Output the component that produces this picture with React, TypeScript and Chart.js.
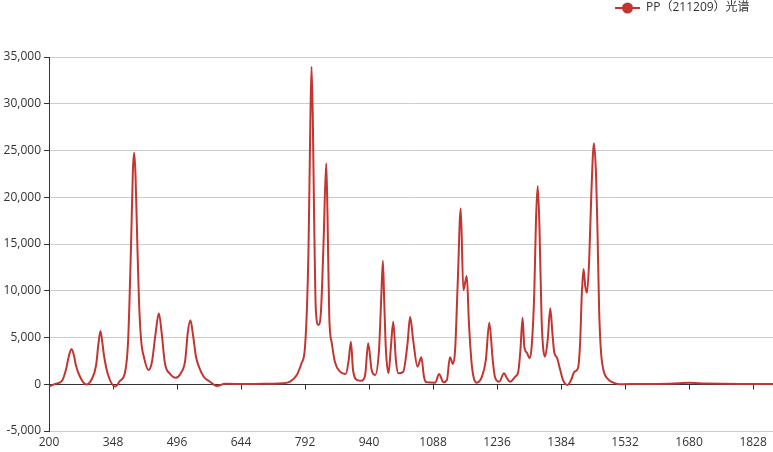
import React, { useEffect, useRef } from 'react';
import { Chart, registerables } from 'chart.js';

Chart.register(...registerables);

const seriesName = 'PP（211209）光谱';
const lineColor = '#c23531';

const wavenumbers = [
  200, 214, 230, 239, 246, 252, 258, 262, 272, 286,
  299, 309, 314, 319, 324, 327, 336, 353, 364, 376,
  383, 390, 394, 397, 400, 404, 408, 413, 420, 430,
  438, 446, 454, 461, 468, 480, 493, 505, 515, 521,
  527, 533, 540, 547, 558, 570, 588, 607, 665, 711,
  741, 757, 773, 784, 792, 800, 804, 807, 810, 813,
  817, 823, 829, 835, 841, 844, 848, 854, 861, 873,
  886, 893, 898, 903, 913, 923, 931, 938, 946, 954,
  963, 968, 972, 975, 979, 985, 990, 996, 1002, 1008,
  1019, 1029, 1035, 1042, 1052, 1061, 1067, 1073, 1093, 1102,
  1112, 1120, 1127, 1134, 1139, 1145, 1152, 1158, 1166, 1171,
  1178, 1189, 1201, 1210, 1218, 1226, 1231, 1241, 1252, 1259,
  1266, 1278, 1285, 1290, 1295, 1299, 1305, 1311, 1316, 1322,
  1326, 1330, 1334, 1339, 1347, 1353, 1359, 1364, 1368, 1375,
  1382, 1389, 1399, 1407, 1415, 1423, 1428, 1432, 1436, 1440,
  1444, 1449, 1454, 1460, 1465, 1468, 1472, 1476, 1482, 1493,
  1505, 1520, 1567, 1636, 1682, 1717, 1798, 1874,
];

const intensities = [
  -240, 30, 350, 1520, 3020, 3770, 3020, 2060, 780, -30,
  560, 2060, 4200, 5700, 4200, 3130, 1100, -240, 350, 1310,
  4730, 15430, 22910, 24760, 22380, 15430, 9010, 4730, 2810, 1520,
  2380, 5270, 7590, 5270, 2270, 1100, 700, 1200, 2590, 5580,
  6840, 5270, 2910, 1840, 780, 350, -190, 50, 30, 60,
  100, 270, 990, 2270, 4020, 14360, 27190, 33960, 28260, 17920,
  7940, 6340, 7940, 15430, 23630, 17920, 7220, 4380, 2410, 1340,
  1100, 2590, 4550, 1520, 450, 380, 990, 4380, 1520, 990,
  3660, 9010, 13210, 9010, 3660, 1170, 3660, 6690, 2590, 1170,
  1340, 4380, 7220, 4730, 1880, 2880, 810, 210, 170, 1100,
  210, 450, 2880, 2170, 3660, 10800, 18820, 10080, 11580, 6520,
  1880, 170, 810, 2590, 6580, 2590, 810, 270, 1170, 640,
  270, 810, 1340, 3660, 7120, 4020, 3370, 2780, 4020, 9730,
  17570, 21200, 16850, 6870, 2950, 4730, 8120, 5450, 3480, 2780,
  1520, 380, -80, 450, 1340, 1710, 4380, 9730, 12330, 10430,
  9790, 13290, 20420, 25770, 22200, 16850, 7940, 3660, 1520, 530,
  170, 0, 30, 50, 150, 80, 30, 30,
];

const xTicks = [200, 348, 496, 644, 792, 940, 1088, 1236, 1384, 1532, 1680, 1828];
const xMin = 200;
const xMax = 1874;
const yMin = -5000;
const yMax = 35000;
const yStep = 5000;

const FONT = '"Microsoft YaHei", "Open Sans", "Noto Sans CJK SC", sans-serif';
const TEXT = '#333';

const zeroAxisPlugin = {
  id: 'zeroAxis',
  beforeDatasetsDraw(chart: any) {
    const { ctx, chartArea, scales } = chart;
    const y0 = Math.round(scales.y.getPixelForValue(0)) + 0.5;
    ctx.save();
    ctx.strokeStyle = '#333';
    ctx.lineWidth = 1;
    ctx.beginPath();
    ctx.moveTo(chartArea.left, y0);
    ctx.lineTo(chartArea.right, y0);
    for (const t of xTicks) {
      const x = Math.round(scales.x.getPixelForValue(t)) + 0.5;
      ctx.moveTo(x, y0);
      ctx.lineTo(x, y0 + 5);
    }
    ctx.stroke();
    ctx.restore();
  },
};

const legendPlugin = {
  id: 'customLegend',
  afterDraw(chart: any) {
    const { ctx } = chart;
    ctx.save();
    const cy = 8;
    ctx.strokeStyle = lineColor;
    ctx.lineWidth = 2;
    ctx.beginPath();
    ctx.moveTo(615, cy);
    ctx.lineTo(640, cy);
    ctx.stroke();
    ctx.fillStyle = lineColor;
    ctx.beginPath();
    ctx.arc(627.5, cy, 5.5, 0, Math.PI * 2);
    ctx.fill();
    ctx.fillStyle = TEXT;
    ctx.font = `12px ${FONT}`;
    ctx.textBaseline = 'middle';
    ctx.textAlign = 'left';
    ctx.fillText(seriesName, 646, cy);
    ctx.restore();
  },
};

export default function App() {
  const canvasRef = useRef<HTMLCanvasElement | null>(null);

  useEffect(() => {
    document.body.style.margin = '0';
    const canvas = canvasRef.current;
    if (!canvas) return;
    const points = wavenumbers.map((x, i) => ({ x, y: intensities[i] }));
    const chart = new Chart(canvas, {
      type: 'line',
      data: {
        datasets: [
          {
            label: seriesName,
            data: points,
            borderColor: lineColor,
            backgroundColor: lineColor,
            borderWidth: 2,
            pointRadius: 0,
            cubicInterpolationMode: 'monotone',
            fill: false,
          },
        ],
      },
      options: {
        responsive: false,
        animation: false,
        devicePixelRatio: 1,
        parsing: false as any,
        layout: { padding: { top: 57, right: 0, bottom: 0, left: 0 } },
        plugins: {
          legend: { display: false },
          tooltip: { enabled: false },
        },
        scales: {
          x: {
            type: 'linear',
            min: xMin,
            max: xMax,
            afterBuildTicks: (scale: any) => {
              scale.ticks = xTicks.map((v) => ({ value: v }));
            },
            afterFit: (scale: any) => {
              scale.height = 21;
            },
            grid: { display: false, drawTicks: false },
            border: { display: false },
            ticks: {
              autoSkip: false,
              maxRotation: 0,
              padding: 4,
              color: TEXT,
              font: { family: FONT, size: 12 },
              callback: (v: any) => String(v),
            },
          },
          y: {
            type: 'linear',
            min: yMin,
            max: yMax,
            afterFit: (scale: any) => {
              scale.width = 49;
            },
            grid: {
              color: '#cccccc',
              tickColor: '#333',
              tickLength: 5,
              lineWidth: 1,
            },
            border: { display: true, color: '#333', width: 1 },
            ticks: {
              stepSize: yStep,
              padding: 3,
              color: TEXT,
              font: { family: FONT, size: 12 },
              callback: (v: any) => Number(v).toLocaleString('en-US'),
            },
          },
        },
      },
      plugins: [zeroAxisPlugin, legendPlugin],
    } as any);
    return () => chart.destroy();
  }, []);

  return (
    <div style={{ position: 'fixed', left: 0, top: 0, width: 773, height: 452 }}>
      <canvas ref={canvasRef} width={773} height={452} style={{ display: 'block' }} />
    </div>
  );
}
